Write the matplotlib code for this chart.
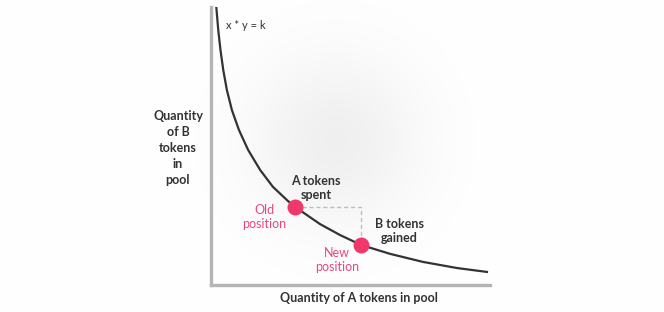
import numpy as np
import matplotlib.pyplot as plt

# curve points (x * y = k), axis units 0..10
curve_x = [0.19, 0.26, 0.34, 0.44, 0.57, 0.75, 1.00, 1.33, 1.76, 2.22,
           2.76, 3.23, 3.91, 4.62, 5.38, 6.42, 7.60, 8.82, 9.89]
curve_y = [10.00, 9.17, 8.45, 7.73, 7.01, 6.29, 5.58, 4.86, 4.14, 3.53,
           3.02, 2.66, 2.19, 1.80, 1.44, 1.12, 0.83, 0.61, 0.47]

old_pos = (3.01, 2.81)
new_pos = (5.38, 1.44)

dark = '#333333'
pink = '#f0386b'
pink_text = '#e8477a'
font = 'Lato'

fig = plt.figure(figsize=(6.64, 3.12), dpi=100)

# soft grey glow behind the curve
bg = fig.add_axes([0, 0, 1, 1], zorder=0)
yy, xx = np.mgrid[0:312, 0:664]
r = np.hypot(xx - 335, yy - 140)
glow = 1 - 0.06 * np.exp(-(r / 85.0) ** 2)
bg.imshow(np.dstack([glow] * 3), extent=[0, 664, 312, 0], aspect='auto')
bg.set_xlim(0, 664)
bg.set_ylim(312, 0)
bg.axis('off')

ax = fig.add_axes([211 / 664, 27 / 312, 279 / 664, 278 / 312], zorder=1)
ax.patch.set_alpha(0)
ax.set_xlim(0, 10)
ax.set_ylim(0, 10)
for s in ['top', 'right']:
    ax.spines[s].set_visible(False)
for s in ['left', 'bottom']:
    ax.spines[s].set_color('#b5b5b5')
    ax.spines[s].set_linewidth(2.4)
ax.set_xticks([])
ax.set_yticks([])

ax.plot(curve_x, curve_y, color=dark, lw=1.6, solid_joinstyle='round', zorder=2)

# dashed step between the two positions
ax.plot([old_pos[0], new_pos[0], new_pos[0]], [old_pos[1], old_pos[1], new_pos[1]],
        color='#bdbdbd', lw=1, ls=(0, (3, 2)), zorder=1)

ax.plot([old_pos[0], new_pos[0]], [old_pos[1], new_pos[1]], 'o', ms=11.5,
        color=pink, mec='none', zorder=3)

ax.text(0.54, 9.32, 'x * y = k', ha='left', va='center', fontsize=8,
        color=dark, family=font)
ax.text(3.76, 3.49, 'A tokens\nspent', ha='center', va='center', fontsize=9,
        color=dark, family=font, fontweight='bold', linespacing=1.25)
ax.text(6.74, 1.94, 'B tokens\ngained', ha='center', va='center', fontsize=9,
        color=dark, family=font, fontweight='bold', linespacing=1.25)
ax.text(1.90, 2.45, 'Old\nposition', ha='center', va='center', fontsize=9,
        color=pink_text, family=font, linespacing=1.25)
ax.text(4.52, 0.90, 'New\nposition', ha='center', va='center', fontsize=9,
        color=pink_text, family=font, linespacing=1.25)

fig.text(178 / 664, 1 - 148 / 312, 'Quantity\nof B\ntokens\nin\npool', ha='center',
         va='center', fontsize=9, color=dark, family=font, fontweight='bold',
         linespacing=1.4)
fig.text(359 / 664, 1 - 298 / 312, 'Quantity of A tokens in pool', ha='center',
         va='center', fontsize=9, color=dark, family=font, fontweight='bold')

fig.savefig('out.png', dpi=100)
